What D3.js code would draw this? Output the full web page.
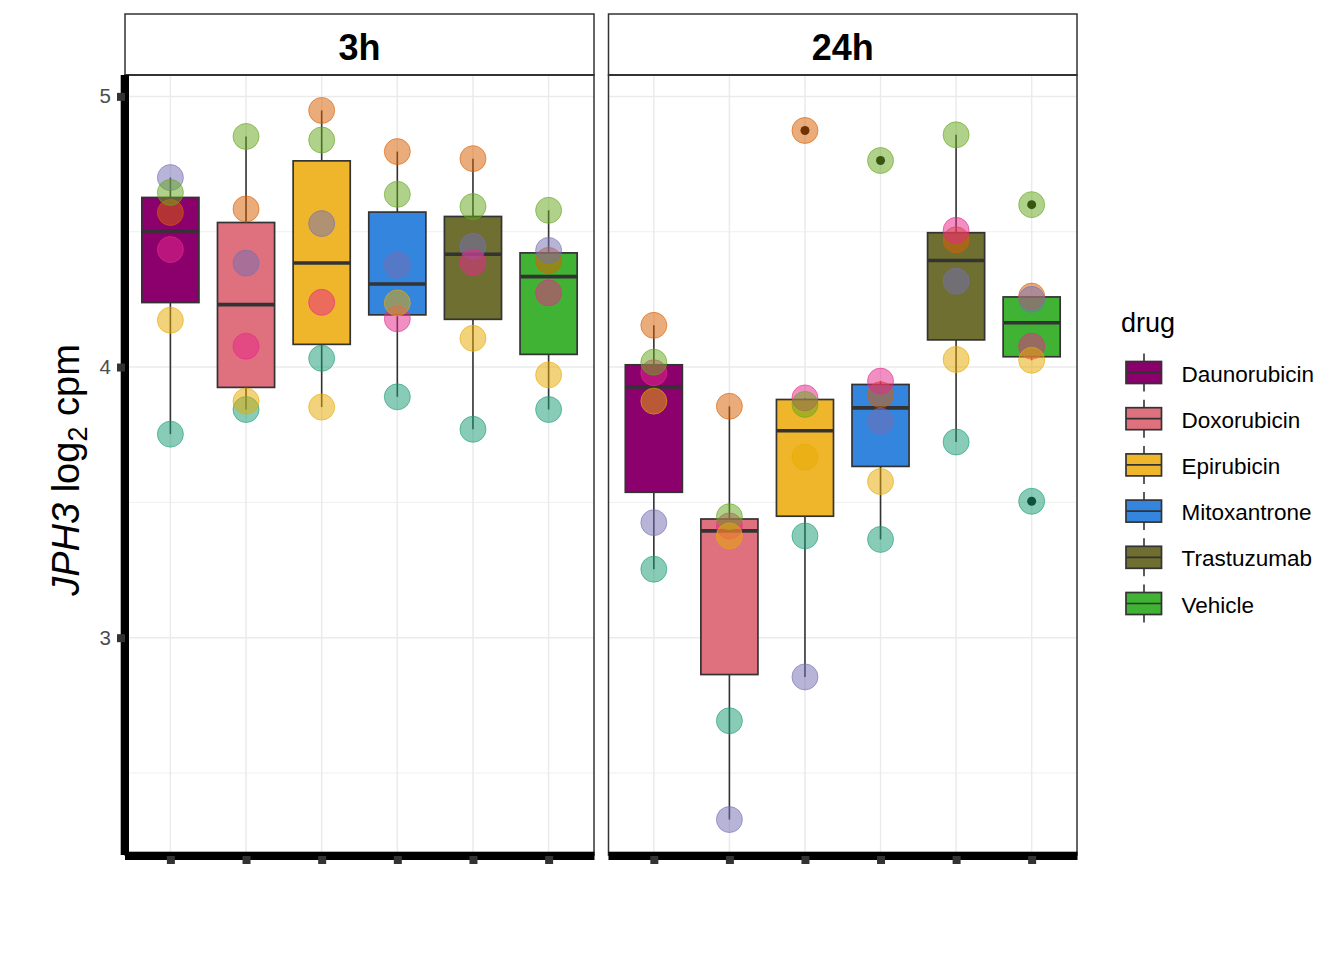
<!DOCTYPE html>
<html>
<head>
<meta charset="utf-8">
<script src="https://cdn.jsdelivr.net/npm/d3@7"></script>
<style>
  html, body { margin: 0; padding: 0; background: #fff; }
  svg { display: block; font-family: "Liberation Sans", Arial, sans-serif; }
</style>
</head>
<body>
<svg id="chart" width="1344" height="960"></svg>
<script>
// ---------- data ----------
const drugs = ["Daunorubicin", "Doxorubicin", "Epirubicin", "Mitoxantrone", "Trastuzumab", "Vehicle"];
const times = ["3h", "24h"];
const individuals = ["ind1", "ind2", "ind3", "ind4", "ind5", "ind6"];
// values per drug, in individual order (ind1..ind6)
const values3h = [
  [3.752, 4.571, 4.700, 4.434, 4.645, 4.173],
  [3.843, 4.584, 4.384, 4.077, 4.852, 3.874],
  [4.032, 4.948, 4.530, 4.239, 4.839, 3.852],
  [3.890, 4.796, 4.376, 4.178, 4.638, 4.237],
  [3.770, 4.770, 4.446, 4.387, 4.593, 4.106],
  [3.843, 4.394, 4.431, 4.274, 4.579, 3.971]
];
const values24h = [
  [3.253, 4.154, 3.425, 3.979, 4.018, 3.874],
  [2.693, 3.855, 2.328, 3.413, 3.447, 3.376],
  [3.376, 4.874, 2.855, 3.886, 3.862, 3.667],
  [3.363, 3.898, 3.800, 3.948, 4.763, 3.577],
  [3.723, 4.470, 4.317, 4.505, 4.858, 4.028],
  [3.504, 4.262, 4.250, 4.077, 4.600, 4.025]
];
const yTicks = [3, 4, 5];
const yMinorTicks = [2.5, 3.5, 4.5];
const drugColors = ["#8B006D", "#DF707E", "#F0B62B", "#3385DE", "#6F6F31", "#41B334"];
const indColors = ["#1B9E77", "#D95F02", "#7570B3", "#E7298A", "#66A61E", "#E6AB02"];

// ---------- layout ----------
const svg = d3.select("#chart");
const panelTop = 75, panelBottom = 855;
const panels = [{x0: 125, x1: 594}, {x0: 608.5, x1: 1077}];
const stripTop = 14;

const y = d3.scaleLinear().domain([2.197, 5.079]).range([panelBottom, panelTop]);
const drugColor = d3.scaleOrdinal().domain(drugs).range(drugColors);
const indColor = d3.scaleOrdinal().domain(individuals).range(indColors);

function stats(vals) {
  const s = vals.slice().sort(d3.ascending);
  const q1 = d3.quantile(s, 0.25), med = d3.quantile(s, 0.5), q3 = d3.quantile(s, 0.75);
  const iqr = q3 - q1;
  const lo = q1 - 1.5 * iqr, hi = q3 + 1.5 * iqr;
  const inside = s.filter(v => v >= lo && v <= hi);
  return {q1, med, q3, wlo: d3.min(inside), whi: d3.max(inside), out: s.filter(v => v < lo || v > hi)};
}

const dataByTime = [values3h, values24h];

times.forEach((t, pi) => {
  const p = panels[pi];
  const x = d3.scalePoint().domain(drugs).range([p.x0, p.x1]).padding(0.6);
  const step = x.step();
  const bw = step * 0.755;
  const g = svg.append("g");

  // grid
  g.selectAll(".minor").data(yMinorTicks).join("line")
    .attr("x1", p.x0).attr("x2", p.x1)
    .attr("y1", d => y(d)).attr("y2", d => y(d))
    .attr("stroke", "#EBEBEB").attr("stroke-width", 0.8);
  g.selectAll(".major").data(yTicks).join("line")
    .attr("x1", p.x0).attr("x2", p.x1)
    .attr("y1", d => y(d)).attr("y2", d => y(d))
    .attr("stroke", "#EBEBEB").attr("stroke-width", 1.5);
  g.selectAll(".vgrid").data(drugs).join("line")
    .attr("x1", d => x(d)).attr("x2", d => x(d))
    .attr("y1", panelTop).attr("y2", panelBottom)
    .attr("stroke", "#EBEBEB").attr("stroke-width", 1.5);

  // boxplots
  const vals = dataByTime[pi];
  drugs.forEach((d, di) => {
    const s = stats(vals[di]);
    const cx = x(d);
    const bg = g.append("g");
    bg.append("line").attr("x1", cx).attr("x2", cx).attr("y1", y(s.q3)).attr("y2", y(s.whi))
      .attr("stroke", "#333").attr("stroke-width", 1.6);
    bg.append("line").attr("x1", cx).attr("x2", cx).attr("y1", y(s.q1)).attr("y2", y(s.wlo))
      .attr("stroke", "#333").attr("stroke-width", 1.6);
    bg.append("rect").attr("x", cx - bw / 2).attr("width", bw)
      .attr("y", y(s.q3)).attr("height", y(s.q1) - y(s.q3))
      .attr("fill", drugColor(d)).attr("stroke", "#333").attr("stroke-width", 1.7);
    bg.append("line").attr("x1", cx - bw / 2).attr("x2", cx + bw / 2)
      .attr("y1", y(s.med)).attr("y2", y(s.med))
      .attr("stroke", "#333").attr("stroke-width", 3.6);
    bg.selectAll(".out").data(s.out).join("circle")
      .attr("cx", cx).attr("cy", v => y(v)).attr("r", 4.5).attr("fill", "#000");
  });

  // points
  drugs.forEach((d, di) => {
    g.selectAll(null).data(vals[di].map((v, i) => ({v, ind: individuals[i]}))).join("circle")
      .attr("cx", x(d)).attr("cy", e => y(e.v)).attr("r", 13)
      .attr("fill", e => indColor(e.ind)).attr("fill-opacity", 0.52)
      .attr("stroke", e => indColor(e.ind)).attr("stroke-opacity", 0.6).attr("stroke-width", 1);
  });

  // panel border
  g.append("rect").attr("x", p.x0).attr("y", panelTop).attr("width", p.x1 - p.x0)
    .attr("height", panelBottom - panelTop).attr("fill", "none")
    .attr("stroke", "#333").attr("stroke-width", 1.5);

  // strip
  g.append("rect").attr("x", p.x0).attr("y", stripTop).attr("width", p.x1 - p.x0)
    .attr("height", panelTop - stripTop).attr("fill", "#fff")
    .attr("stroke", "#333").attr("stroke-width", 1.5);
  g.append("line").attr("x1", p.x0).attr("x2", p.x1).attr("y1", panelTop).attr("y2", panelTop)
    .attr("stroke", "#333").attr("stroke-width", 2.2);
  g.append("text").attr("x", (p.x0 + p.x1) / 2).attr("y", 60)
    .attr("text-anchor", "middle").attr("font-weight", "bold").attr("font-size", 36)
    .attr("fill", "#000").text(t);

  // bottom axis line (thick)
  g.append("rect").attr("x", p.x0).attr("y", 851.7).attr("width", p.x1 - p.x0 + 0.5).attr("height", 8.3)
    .attr("fill", "#000");

  // x axis ticks
  const xa = g.append("g").attr("transform", `translate(0,856)`)
    .call(d3.axisBottom(x).tickSize(8).tickFormat(""));
  xa.select(".domain").remove();
  xa.selectAll(".tick line").attr("stroke", "#333").attr("stroke-width", 8);
});

// left axis line
svg.append("rect").attr("x", 120.7).attr("y", panelTop).attr("width", 8.3).attr("height", panelBottom - panelTop)
  .attr("fill", "#000");
const ya = svg.append("g").attr("transform", "translate(125,0)")
  .call(d3.axisLeft(y).tickValues(yTicks).tickSize(8).tickPadding(6).tickFormat(d3.format("d")));
ya.select(".domain").remove();
ya.selectAll(".tick line").attr("stroke", "#333").attr("stroke-width", 8);
ya.selectAll(".tick text").attr("fill", "#4D4D4D").attr("font-size", 20.5)
  .attr("font-family", "'Liberation Sans', Arial, sans-serif");

// y axis title
const yt = svg.append("text")
  .attr("transform", "translate(79,470) rotate(-90)")
  .attr("text-anchor", "middle").attr("font-size", 38).attr("fill", "#000");
yt.append("tspan").attr("font-style", "italic").text("JPH3");
yt.append("tspan").text(" log");
yt.append("tspan").attr("font-size", 27).attr("dy", 8).text("2");
yt.append("tspan").attr("dy", -8).text(" cpm");

// legend
const lg = svg.append("g");
lg.append("text").attr("x", 1121).attr("y", 332).attr("font-size", 27).attr("fill", "#000").text("drug");
const items = lg.selectAll(".item").data(drugs).join("g")
  .attr("transform", (d, i) => `translate(0,${372.5 + i * 46.2})`);
items.append("line").attr("x1", 1144).attr("x2", 1144).attr("y1", -19).attr("y2", 19)
  .attr("stroke", "#333").attr("stroke-width", 1.6);
items.append("rect").attr("x", 1126).attr("y", -11).attr("width", 35.5).attr("height", 22)
  .attr("fill", d => drugColor(d)).attr("stroke", "#333").attr("stroke-width", 1.7);
items.append("line").attr("x1", 1126).attr("x2", 1161.5).attr("y1", 0).attr("y2", 0)
  .attr("stroke", "#333").attr("stroke-width", 1.7);
items.append("text").attr("x", 1181.5).attr("y", 9).attr("font-size", 22.5).attr("fill", "#000").text(d => d);
</script>
</body>
</html>
